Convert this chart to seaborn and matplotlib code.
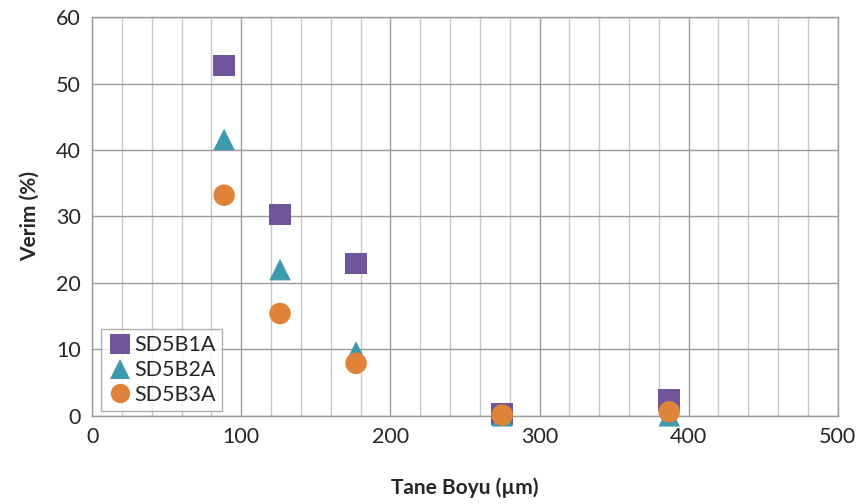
import pandas as pd
import numpy as np
import matplotlib.pyplot as plt
import seaborn as sns

# Data
tane_boyu = [88.5, 126, 177, 275, 387]
sd5b1a = [52.7, 30.3, 22.9, 0.3, 2.4]
sd5b2a = [41.6, 22.0, 9.6, 0.0, 0.0]
sd5b3a = [33.2, 15.4, 7.9, 0.1, 0.6]
series_names = ['SD5B1A', 'SD5B2A', 'SD5B3A']

df = pd.DataFrame({
    'x': tane_boyu * 3,
    'y': sd5b1a + sd5b2a + sd5b3a,
    'seri': np.repeat(series_names, len(tane_boyu)),
})

sns.set_style('white')
plt.rcParams['font.family'] = ['Lato', 'DejaVu Sans']

fig, ax = plt.subplots(figsize=(8.61, 5.04), dpi=100)
fig.subplots_adjust(left=0.107, right=0.973, top=0.966, bottom=0.175)

palette = {'SD5B1A': '#70559A', 'SD5B2A': '#3B9AAE', 'SD5B3A': '#E0833A'}
markers = {'SD5B1A': 's', 'SD5B2A': '^', 'SD5B3A': 'o'}

sns.scatterplot(data=df, x='x', y='y', hue='seri', style='seri',
                palette=palette, markers=markers, s=240, linewidth=0,
                ax=ax, clip_on=False, zorder=3)

ax.set_xlim(0, 500)
ax.set_ylim(0, 60)
ax.set_xticks(np.arange(0, 501, 100))
ax.set_xticks(np.arange(0, 501, 20), minor=True)
ax.set_yticks(np.arange(0, 61, 10))
ax.grid(True, which='major', axis='both', color='#9A9A9A', linewidth=1)
ax.grid(True, which='minor', axis='x', color='#C8C8C8', linewidth=1)
ax.set_axisbelow(True)
for s in ax.spines.values():
    s.set_color('#9A9A9A')
    s.set_linewidth(1)
ax.tick_params(axis='both', which='both', length=0, labelsize=15.5, colors='#262626', pad=8)

ax.set_xlabel('Tane Boyu (µm)', fontsize=15, fontweight='bold', labelpad=22)
ax.set_ylabel('Verim (%)', fontsize=15, fontweight='bold', labelpad=12)

leg = ax.legend(loc='lower left', bbox_to_anchor=(0.012, 0.011), fontsize=15.5,
                frameon=True, fancybox=False, edgecolor='#9A9A9A',
                handletextpad=0.05, borderpad=0.3, labelspacing=0.22,
                handlelength=1.2, markerscale=0.9, borderaxespad=0)
leg.get_frame().set_linewidth(1)

plt.savefig('out.png', dpi=100)
